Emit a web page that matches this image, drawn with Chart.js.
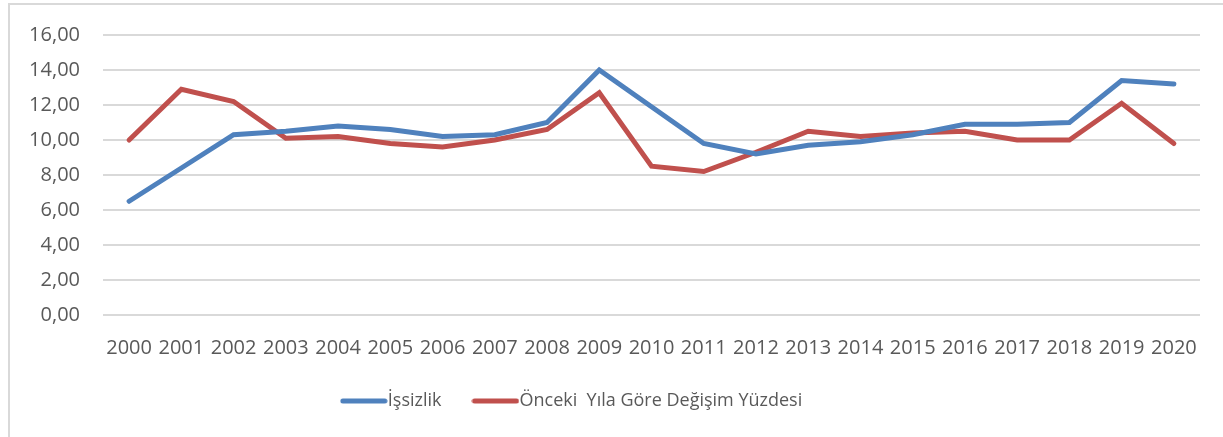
<!DOCTYPE html>
<html>
<head>
<meta charset="utf-8">
<script src="https://cdn.jsdelivr.net/npm/chart.js@4.4.1/dist/chart.umd.min.js"></script>
<style>
  html, body { margin: 0; padding: 0; background: #ffffff; }
  #wrap { position: relative; width: 1223px; height: 437px; }
</style>
</head>
<body>
<div id="wrap"><canvas id="c" width="1223" height="437"></canvas></div>
<script>
const years = ['2000','2001','2002','2003','2004','2005','2006','2007','2008','2009','2010',
               '2011','2012','2013','2014','2015','2016','2017','2018','2019','2020'];
const issizlik = [6.5, 8.4, 10.3, 10.5, 10.8, 10.6, 10.2, 10.3, 11.0, 14.0, 11.9,
                  9.8, 9.2, 9.7, 9.9, 10.3, 10.9, 10.9, 11.0, 13.4, 13.2];
const degisim = [10.0, 12.9, 12.2, 10.1, 10.2, 9.8, 9.6, 10.0, 10.6, 12.7, 8.5,
                 8.2, 9.3, 10.5, 10.2, 10.4, 10.5, 10.0, 10.0, 12.1, 9.8];
const seriesNames = ['İşsizlik', 'Önceki  Yıla Göre Değişim Yüzdesi'];
const yTicks = { min: 0, max: 16, step: 2 };

const BLUE = '#4F81BD';
const RED = '#C0504D';
const TEXT = '#595959';
const FONT = "'Open Sans', sans-serif";

function legendLine(color) {
  const cv = document.createElement('canvas');
  cv.width = 48; cv.height = 8;
  const g = cv.getContext('2d');
  g.strokeStyle = color; g.lineWidth = 5; g.lineCap = 'round';
  g.beginPath(); g.moveTo(3, 4); g.lineTo(45, 4); g.stroke();
  return cv;
}
const legendImgs = [legendLine(BLUE), legendLine(RED)];

const frame = {
  id: 'frame',
  afterLayout(chart) {
    const lg = chart.legend;
    if (lg) { lg.left -= 29; lg.right -= 29; lg.top -= 10; lg.bottom -= 10; }
  },
  beforeDraw(chart) {
    const ctx = chart.ctx;
    ctx.save();
    ctx.strokeStyle = '#d9d9d9';
    ctx.lineWidth = 2;
    ctx.beginPath();
    ctx.moveTo(9, 437); ctx.lineTo(9, 4); ctx.lineTo(1223, 4);
    ctx.stroke();
    ctx.restore();
  }
};

new Chart(document.getElementById('c'), {
  type: 'line',
  data: {
    labels: years,
    datasets: [
      { label: seriesNames[0], data: issizlik, borderColor: BLUE, backgroundColor: BLUE,
        borderWidth: 5, borderCapStyle: 'round', borderJoinStyle: 'miter', pointRadius: 0, tension: 0 },
      { label: seriesNames[1], data: degisim, borderColor: RED, backgroundColor: RED,
        borderWidth: 5, borderCapStyle: 'round', borderJoinStyle: 'miter', pointRadius: 0, tension: 0 }
    ]
  },
  plugins: [frame],
  options: {
    responsive: false,
    animation: false,
    layout: { padding: { left: 9, right: 23, top: 33, bottom: 7 } },
    plugins: {
      tooltip: { enabled: false },
      legend: {
        position: 'bottom',
        labels: {
          usePointStyle: true,
          pointStyleWidth: 30,
          boxHeight: 8,
          padding: 39,
          color: TEXT,
          font: { family: FONT, size: 18 },
          generateLabels(chart) {
            const items = Chart.defaults.plugins.legend.labels.generateLabels(chart);
            items.forEach((it, i) => { it.pointStyle = legendImgs[i]; });
            return items;
          }
        }
      }
    },
    scales: {
      x: {
        offset: true,
        grid: { display: false, drawTicks: false },
        border: { display: false },
        ticks: { color: TEXT, font: { family: FONT, size: 20 }, autoSkip: false, maxRotation: 0, padding: 21 },
        afterFit(scale) { scale.height = 48; }
      },
      y: {
        min: yTicks.min, max: yTicks.max,
        grid: { color: '#d9d9d9', lineWidth: 2, drawTicks: false },
        border: { display: false },
        ticks: {
          stepSize: yTicks.step, color: TEXT, font: { family: FONT, size: 20 }, padding: 23,
          callback: (v) => v.toFixed(2).replace('.', ',')
        },
        afterFit(scale) { scale.width = 94; }
      }
    }
  }
});
</script>
</body>
</html>
